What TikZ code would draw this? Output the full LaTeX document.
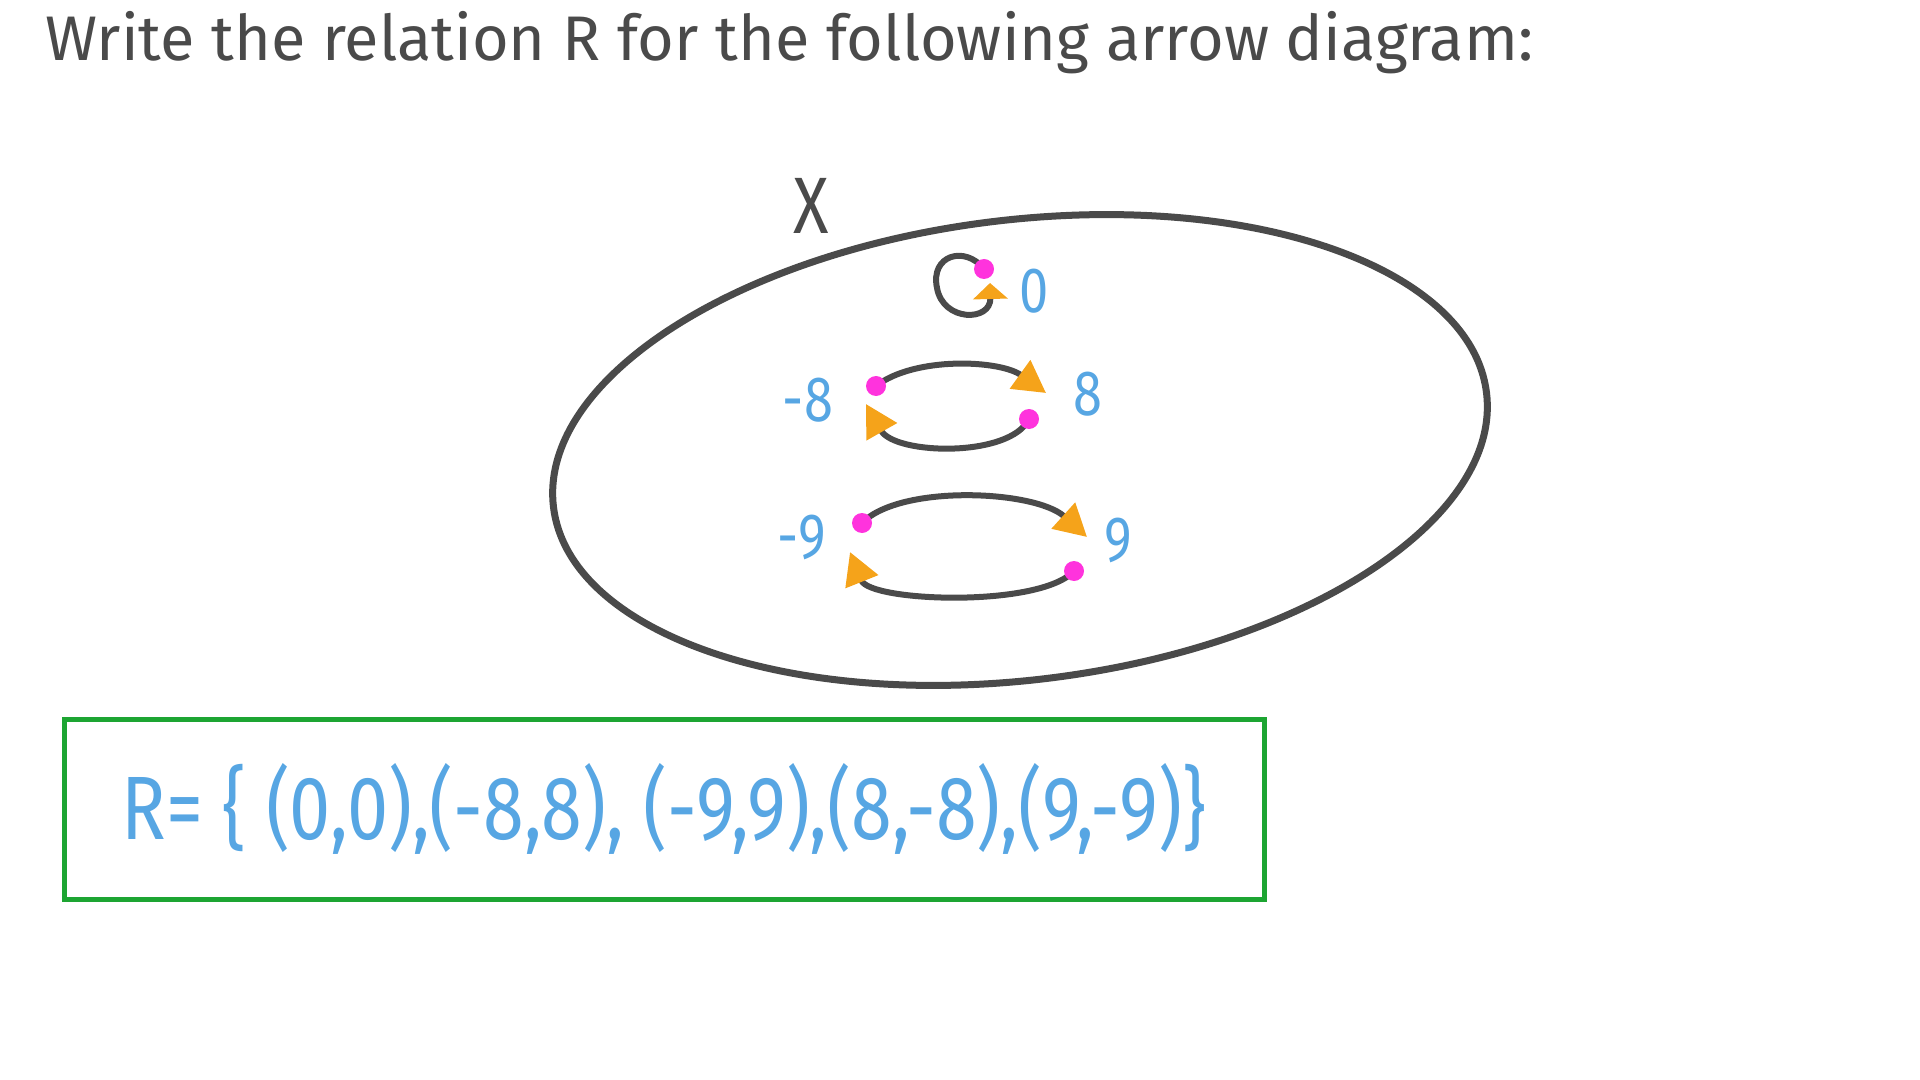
\documentclass[tikz,border=0pt]{standalone}
\usepackage{fontspec}
\setmainfont{Fira Sans}
\newfontfamily\handfont[FakeStretch=0.82]{Fira Sans}
\usetikzlibrary{arrows.meta,positioning}
\definecolor{inkgray}{HTML}{4A4A4A}
\definecolor{dotpink}{HTML}{FF33DD}
\definecolor{tipor}{HTML}{F5A31A}
\definecolor{boxgreen}{HTML}{1DA532}
\definecolor{penblue}{HTML}{57A6E3}

\begin{document}
\begin{tikzpicture}[x=0.5pt,y=-0.5pt, elem/.style={circle,fill=dotpink,inner sep=0pt,minimum size=10pt}, lbl/.style={text=penblue,font=\handfont\fontsize{32}{36}\selectfont}, rel/.style={draw=inkgray,line width=3pt,-{Triangle[color=tipor,fill=tipor,length=16pt,width=17pt]}}, selfrel/.style={draw=inkgray,line width=3pt,-{Triangle[color=tipor,fill=tipor,length=8pt,width=17pt]}}, answer/.style={draw=boxgreen,line width=2.5pt,minimum width=600pt,minimum height=90pt,inner sep=0pt,text=penblue,font=\handfont\fontsize{45}{50}\selectfont}]
\useasboundingbox (0,0) rectangle (1920,1080);
\node[anchor=base west,text=inkgray,font=\fontsize{31.5}{36}\selectfont] (title) at (38,61) {Write the relation R for the following arrow diagram:};
% the set X
\draw[inkgray,line width=3.5pt,rotate around={7:(1020,450)}] (1020,450) ellipse [x radius=470,y radius=230];
\node[text=inkgray,font=\handfont\fontsize{40}{44}\selectfont] (setname) at (811,206) {X};
\coordinate (zin) at (990,283); \coordinate (p8in) at (1046,393); \coordinate (m8in) at (866,404); \coordinate (p9in) at (1087,537); \coordinate (m9in) at (850,552);
\draw[selfrel] (984,269) .. controls (965,245) and (930,255) .. (937,288) .. controls (943,322) and (991,322) .. (zin);
\draw[rel] (876,386) .. controls (915,356) and (1000,360) .. (p8in);
\draw[rel] (1029,419) .. controls (1010,458) and (895,455) .. (m8in);
\draw[rel] (862,523) .. controls (900,484) and (1035,490) .. (p9in);
\draw[rel] (1074,571) .. controls (1040,608) and (870,602) .. (m9in);
\node[elem] (z) at (984,269) {};
\node[elem] (m8) at (876,386) {};
\node[elem] (p8) at (1029,419) {};
\node[elem] (m9) at (862,523) {};
\node[elem] (p9) at (1074,571) {};
\node[lbl] (lz) at (1034,291) {0};
\node[lbl] (lm8) at (808,400) {-8};
\node[lbl] (lp8) at (1088,394) {8};
\node[lbl] (lm9) at (802,537) {-9};
\node[lbl] (lp9) at (1118,540) {9};
\node[answer] (relset) at (664,809) {R= \{ (0,0),(-8,8), (-9,9),(8,-8),(9,-9)\}};
\end{tikzpicture}
\end{document}
